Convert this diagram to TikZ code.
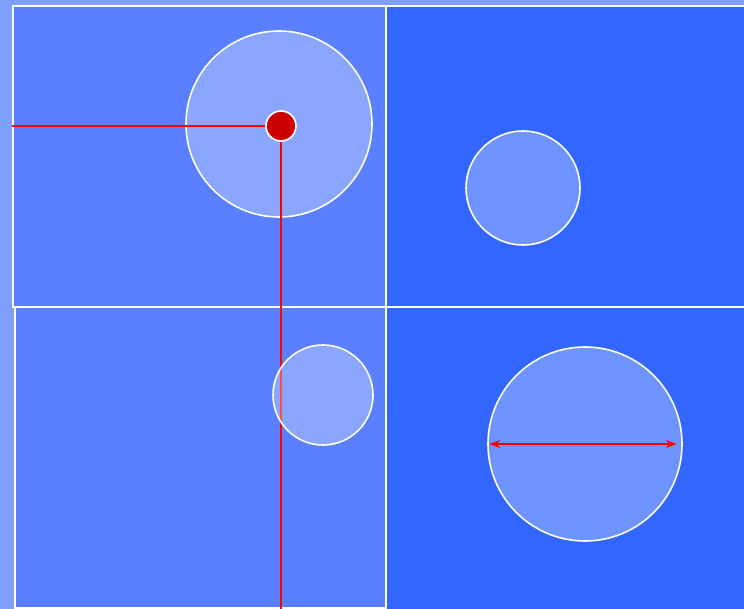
\documentclass[tikz,border=0pt]{standalone}
\usepackage{tikz}
\usetikzlibrary{arrows.meta,positioning}
\definecolor{bgblue}{HTML}{7F9FFF}
\definecolor{paleblue}{HTML}{5A80FF}
\definecolor{deepblue}{HTML}{3366FF}
\definecolor{dotred}{HTML}{CC0000}

\begin{document}
\begin{tikzpicture}[x=1pt,y=-1pt,>={Stealth[length=11pt,width=8pt]},
  pane/.style={draw=white,line width=1.6pt,anchor=north west,inner sep=0pt},
  disc/.style={circle,draw=white,line width=1.6pt,fill=white,fill opacity=0.3,inner sep=0pt},
  ray/.style={draw=red,line width=1.6pt}]
  \fill[bgblue] (0,0) rectangle (744,609);
  \useasboundingbox (0,0) rectangle (744,609);
  \node[pane,fill=deepblue,minimum width=362pt,minimum height=301pt] (ne) at (385,5) {};
  \node[pane,fill=deepblue,minimum width=362pt,minimum height=304pt] (se) at (385,306) {};
  \node[pane,fill=paleblue,minimum width=371pt,minimum height=301pt] (sw) at (14,306) {};
  \node[pane,fill=paleblue,minimum width=373pt,minimum height=301pt] (nw) at (12,5) {};
  \coordinate (edge) at (12,126);
  \coordinate (foot) at (281,612);
  \node[disc,minimum size=186pt] (big) at (279,124) {};
  \node[circle,fill=dotred,draw=white,line width=1.6pt,minimum size=30pt,inner sep=0pt] (dot) at (281,126) {};
  \draw[ray] (edge)--(dot.west);
  \draw[ray] (dot.south)--(foot);
  \node[disc,minimum size=114pt] (small) at (523,188) {};
  \node[disc,minimum size=100pt] (mid) at (323,395) {};
  \node[disc,minimum size=194pt] (wide) at (585,444) {};
  \draw[ray,<->] ([xshift=2pt]wide.west)--([xshift=-6pt]wide.east);
\end{tikzpicture}
\end{document}
